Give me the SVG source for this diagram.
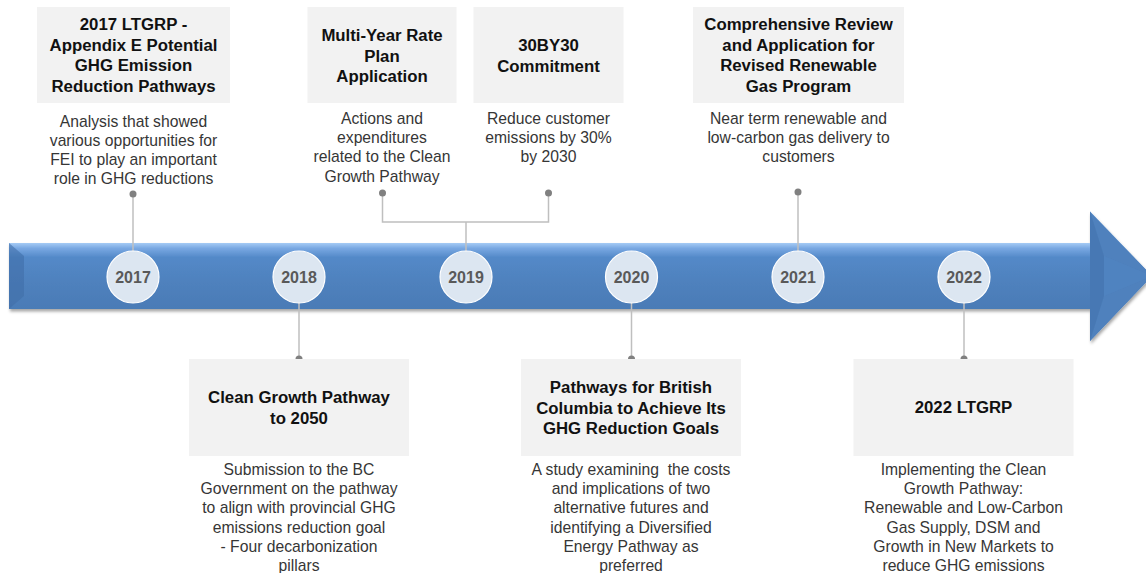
<svg xmlns="http://www.w3.org/2000/svg" width="1146" height="573" viewBox="0 0 1146 573">
  <style>
    .box { fill: #f2f2f2; }
    .title { font-family: "Liberation Sans", Arial, sans-serif; font-weight: bold; font-size: 16.8px; fill: #111111; text-anchor: middle; }
    .desc { font-family: "Liberation Sans", Arial, sans-serif; font-size: 15.7px; fill: #363636; text-anchor: middle; }
    .year { font-family: "Liberation Sans", Arial, sans-serif; font-weight: bold; font-size: 16px; fill: #595959; text-anchor: middle; }
    .yc { fill: #dce6f1; stroke: #ffffff; stroke-width: 1.2; }
    .conn { fill: none; stroke: #bfbfbf; stroke-width: 1.5; }
    .dot { fill: #808080; }
  </style>
  <defs>
    <linearGradient id="bodyGrad" x1="0" y1="243" x2="0" y2="309" gradientUnits="userSpaceOnUse">
      <stop offset="0" stop-color="#a5cbf5"/>
      <stop offset="0.08" stop-color="#79a8e2"/>
      <stop offset="0.22" stop-color="#5389c8"/>
      <stop offset="0.6" stop-color="#4f81bd"/>
      <stop offset="1" stop-color="#4a7bb6"/>
    </linearGradient>
    <filter id="shadow" x="-5%" y="-20%" width="110%" height="150%">
      <feDropShadow dx="1" dy="2.5" stdDeviation="1.8" flood-color="#000000" flood-opacity="0.35"/>
    </filter>
  </defs>

  <!-- timeline arrow -->
  <g id="timeline-arrow" filter="url(#shadow)">
    <path d="M9,243 L1090,243 L1090,211.5 L1152,276 L1090,341 L1090,309 L9,309 Z" fill="url(#bodyGrad)"/>
    <path d="M1090,211.5 L1152,276 L1090,341 Z" fill="#4f81bd"/>
    <path d="M1090,211.5 L1104,256 L1104,296 L1090,341 Z" fill="#4373ad" opacity="0.6"/>
    <path d="M1104,256 L1152,276 L1104,296 Z" fill="#5286c3" opacity="0.5"/>
    <path d="M9,243 L24,256 L24,296 L9,309 Z" fill="#3f6ea8" opacity="0.6"/>
  </g>

  <!-- connectors -->
  <g id="connectors">
    <line class="conn" x1="133" y1="194" x2="133" y2="251"/>
    <line class="conn" x1="299" y1="303" x2="299" y2="359"/>
    <path class="conn" d="M382.5,193 V222 H548.5 V193"/>
    <line class="conn" x1="466" y1="222" x2="466" y2="251"/>
    <line class="conn" x1="631.5" y1="303" x2="631.5" y2="359"/>
    <line class="conn" x1="798" y1="192" x2="798" y2="251"/>
    <line class="conn" x1="964" y1="303" x2="964" y2="359"/>
    <circle class="dot" cx="133" cy="194" r="3.5"/>
    <circle class="dot" cx="299" cy="359" r="3.5"/>
    <circle class="dot" cx="382.5" cy="193" r="3.5"/>
    <circle class="dot" cx="548.5" cy="193" r="3.5"/>
    <circle class="dot" cx="631.5" cy="359" r="3.5"/>
    <circle class="dot" cx="798" cy="192" r="3.5"/>
    <circle class="dot" cx="964" cy="359" r="3.5"/>
  </g>

  <!-- year markers -->
  <g id="year-2017"><circle class="yc" cx="133" cy="277" r="26"/><text class="year" x="133" y="283">2017</text></g>
  <g id="year-2018"><circle class="yc" cx="299" cy="277" r="26"/><text class="year" x="299" y="283">2018</text></g>
  <g id="year-2019"><circle class="yc" cx="466" cy="277" r="26"/><text class="year" x="466" y="283">2019</text></g>
  <g id="year-2020"><circle class="yc" cx="631.5" cy="277" r="26"/><text class="year" x="631.5" y="283">2020</text></g>
  <g id="year-2021"><circle class="yc" cx="798" cy="277" r="26"/><text class="year" x="798" y="283">2021</text></g>
  <g id="year-2022"><circle class="yc" cx="964" cy="277" r="26"/><text class="year" x="964" y="283">2022</text></g>

  <!-- 2017 event -->
  <g id="event-2017-ltgrp">
    <rect class="box" x="37" y="7" width="193" height="96"/>
    <text class="title" x="133.5" y="30">2017 LTGRP -</text>
    <text class="title" x="133.5" y="50.6">Appendix E Potential</text>
    <text class="title" x="133.5" y="71.2">GHG Emission</text>
    <text class="title" x="133.5" y="91.8">Reduction Pathways</text>
    <text class="desc" x="133.5" y="126.5">Analysis that showed</text>
    <text class="desc" x="133.5" y="145.7">various opportunities for</text>
    <text class="desc" x="133.5" y="164.9">FEI to play an important</text>
    <text class="desc" x="133.5" y="184.1">role in GHG reductions</text>
  </g>

  <!-- 2018 event -->
  <g id="event-2018-clean-growth">
    <rect class="box" x="189" y="359" width="220" height="97"/>
    <text class="title" x="299" y="403">Clean Growth Pathway</text>
    <text class="title" x="299" y="423.6">to 2050</text>
    <text class="desc" x="299" y="475">Submission to the BC</text>
    <text class="desc" x="299" y="494.2">Government on the pathway</text>
    <text class="desc" x="299" y="513.4">to align with provincial GHG</text>
    <text class="desc" x="299" y="532.6">emissions reduction goal</text>
    <text class="desc" x="299" y="551.8">- Four decarbonization</text>
    <text class="desc" x="299" y="571">pillars</text>
  </g>

  <!-- 2019 events -->
  <g id="event-2019-rate-plan">
    <rect class="box" x="307.5" y="7" width="149" height="96"/>
    <text class="title" x="382" y="41">Multi-Year Rate</text>
    <text class="title" x="382" y="61.6">Plan</text>
    <text class="title" x="382" y="82.2">Application</text>
    <text class="desc" x="382" y="124">Actions and</text>
    <text class="desc" x="382" y="143.2">expenditures</text>
    <text class="desc" x="382" y="162.4">related to the Clean</text>
    <text class="desc" x="382" y="181.6">Growth Pathway</text>
  </g>
  <g id="event-2019-30by30">
    <rect class="box" x="473.5" y="7" width="150" height="96"/>
    <text class="title" x="548.5" y="51">30BY30</text>
    <text class="title" x="548.5" y="71.6">Commitment</text>
    <text class="desc" x="548.5" y="124">Reduce customer</text>
    <text class="desc" x="548.5" y="143.2">emissions by 30%</text>
    <text class="desc" x="548.5" y="162.4">by 2030</text>
  </g>

  <!-- 2020 event -->
  <g id="event-2020-pathways">
    <rect class="box" x="521" y="359" width="220" height="97"/>
    <text class="title" x="631" y="393">Pathways for British</text>
    <text class="title" x="631" y="413.6">Columbia to Achieve Its</text>
    <text class="title" x="631" y="434.2">GHG Reduction Goals</text>
    <text class="desc" x="631" y="475">A study examining&#160; the costs</text>
    <text class="desc" x="631" y="494.2">and implications of two</text>
    <text class="desc" x="631" y="513.4">alternative futures and</text>
    <text class="desc" x="631" y="532.6">identifying a Diversified</text>
    <text class="desc" x="631" y="551.8">Energy Pathway as</text>
    <text class="desc" x="631" y="571">preferred</text>
  </g>

  <!-- 2021 event -->
  <g id="event-2021-renewable-gas">
    <rect class="box" x="693" y="7" width="211" height="96"/>
    <text class="title" x="798.5" y="30">Comprehensive Review</text>
    <text class="title" x="798.5" y="50.6">and Application for</text>
    <text class="title" x="798.5" y="71.2">Revised Renewable</text>
    <text class="title" x="798.5" y="91.8">Gas Program</text>
    <text class="desc" x="798.5" y="124">Near term renewable and</text>
    <text class="desc" x="798.5" y="143.2">low-carbon gas delivery to</text>
    <text class="desc" x="798.5" y="162.4">customers</text>
  </g>

  <!-- 2022 event -->
  <g id="event-2022-ltgrp">
    <rect class="box" x="853.5" y="359" width="220" height="97"/>
    <text class="title" x="963.5" y="413">2022 LTGRP</text>
    <text class="desc" x="963.5" y="475">Implementing the Clean</text>
    <text class="desc" x="963.5" y="494.2">Growth Pathway:</text>
    <text class="desc" x="963.5" y="513.4">Renewable and Low-Carbon</text>
    <text class="desc" x="963.5" y="532.6">Gas Supply, DSM and</text>
    <text class="desc" x="963.5" y="551.8">Growth in New Markets to</text>
    <text class="desc" x="963.5" y="571">reduce GHG emissions</text>
  </g>
</svg>
